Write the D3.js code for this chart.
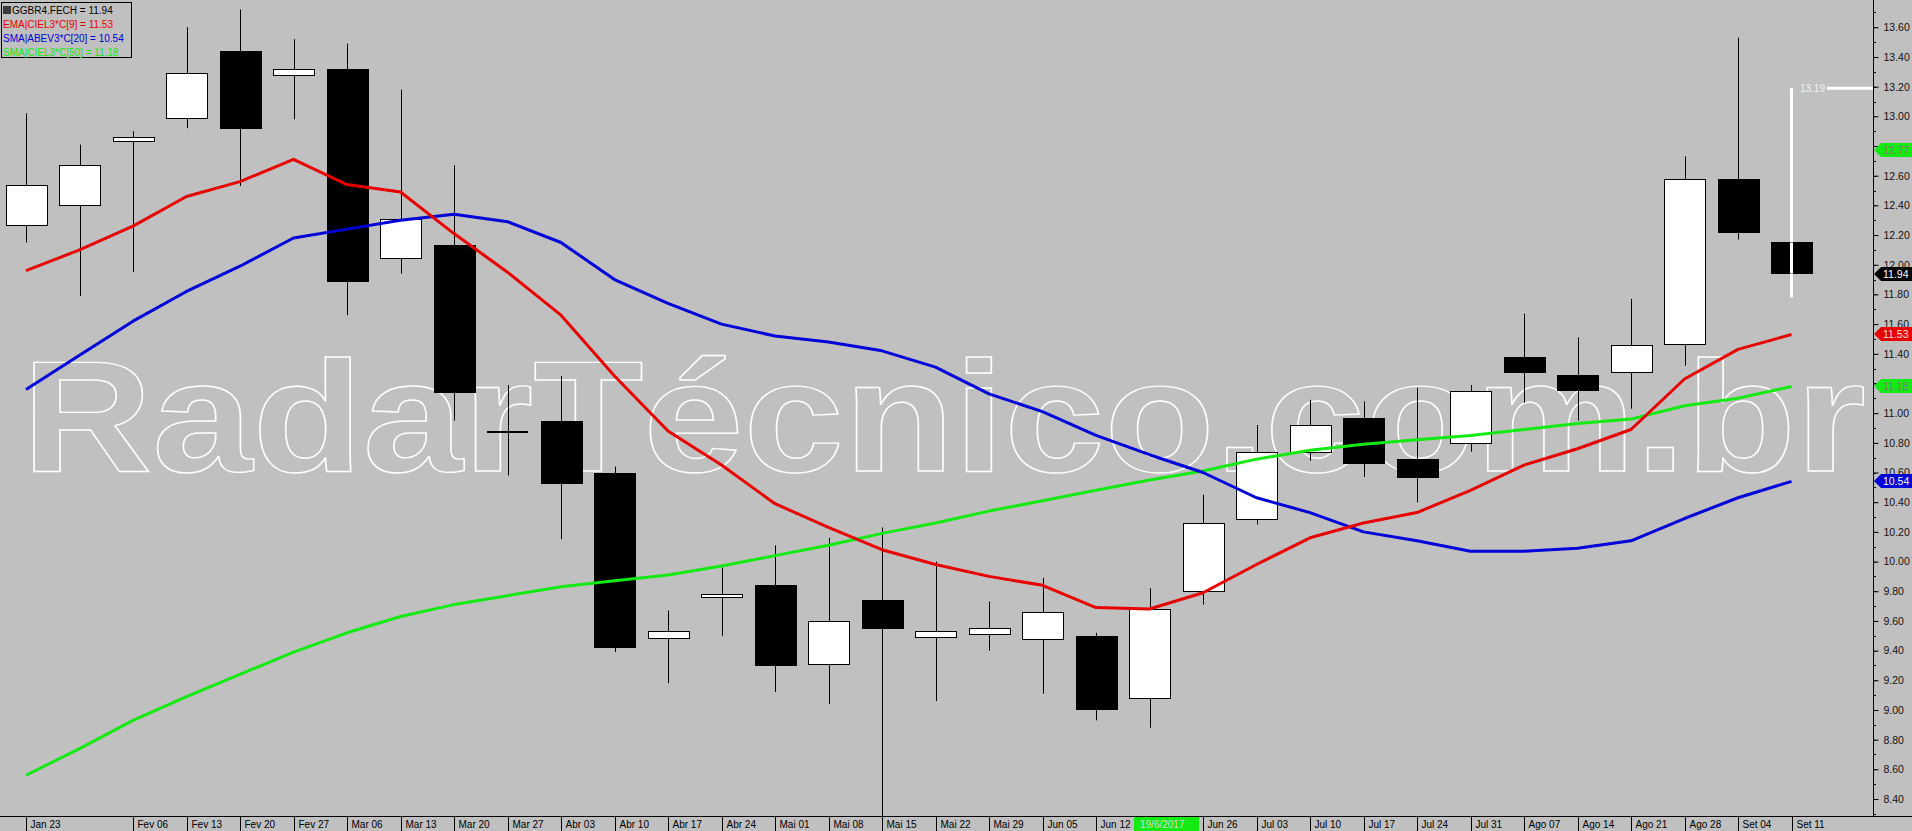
<!DOCTYPE html>
<html><head><meta charset="utf-8">
<script src="https://cdn.jsdelivr.net/npm/d3@7"></script>
<style>
html,body{margin:0;padding:0;background:#c0c0c0;overflow:hidden}
svg{display:block}
text{font-family:"Liberation Sans",Arial,sans-serif}
</style></head><body>
<svg id="chart" width="1912" height="831"></svg>
<script>
// ---------- data ----------
const dates = ["Jan 23","Jan 30","Fev 06","Fev 13","Fev 20","Fev 27","Mar 06","Mar 13","Mar 20","Mar 27",
  "Abr 03","Abr 10","Abr 17","Abr 24","Mai 01","Mai 08","Mai 15","Mai 22","Mai 29","Jun 05",
  "Jun 12","Jun 19","Jun 26","Jul 03","Jul 10","Jul 17","Jul 24","Jul 31","Ago 07","Ago 14",
  "Ago 21","Ago 28","Set 04","Set 11"];
const tickLabels = ["Jan 23","","Fev 06","Fev 13","Fev 20","Fev 27","Mar 06","Mar 13","Mar 20","Mar 27",
  "Abr 03","Abr 10","Abr 17","Abr 24","Mai 01","Mai 08","Mai 15","Mai 22","Mai 29","Jun 05",
  "Jun 12","19/6/2017","Jun 26","Jul 03","Jul 10","Jul 17","Jul 24","Jul 31","Ago 07","Ago 14",
  "Ago 21","Ago 28","Set 04","Set 11"];
const highlightedLabel = "19/6/2017";
const open  = [12.27,12.40,12.83,12.99,13.44,13.28,13.32,12.05,12.13,10.87,10.95,10.60,9.48,9.76,9.84,9.31,9.74,9.49,9.51,9.48,9.50,9.08,9.80,10.29,10.74,10.97,10.69,10.80,11.38,11.26,11.28,11.47,12.58,12.15];
const high  = [13.02,12.81,12.90,13.60,13.72,13.52,13.49,13.18,12.67,11.19,11.25,10.64,9.67,9.96,10.11,10.16,10.23,10.00,9.73,9.89,9.52,9.82,10.45,10.92,11.09,11.08,11.17,11.19,11.67,11.51,11.77,12.73,13.53,13.19];
const low   = [12.15,11.79,11.95,12.92,12.53,12.98,11.66,11.94,10.95,10.58,10.15,9.39,9.18,9.50,9.12,9.04,8.20,9.06,9.40,9.11,8.93,8.88,9.71,10.25,10.68,10.57,10.40,10.74,11.07,10.95,11.03,11.32,12.17,11.78];
const close = [12.54,12.67,12.86,13.29,12.92,13.32,11.89,12.31,11.14,10.87,10.53,9.43,9.53,9.78,9.30,9.60,9.55,9.53,9.55,9.66,9.01,9.68,10.26,10.74,10.92,10.67,10.57,11.15,11.28,11.16,11.46,12.58,12.22,11.94];
const ema9  = [11.96,12.10,12.26,12.46,12.56,12.71,12.54,12.49,12.21,11.95,11.66,11.25,10.88,10.65,10.39,10.23,10.08,9.98,9.90,9.84,9.69,9.68,9.79,9.98,10.16,10.26,10.33,10.48,10.65,10.76,10.89,11.23,11.43,11.53];
const sma20 = [11.16,11.39,11.62,11.82,11.99,12.18,12.24,12.30,12.34,12.29,12.15,11.90,11.74,11.60,11.52,11.48,11.42,11.31,11.13,11.01,10.85,10.72,10.60,10.43,10.33,10.20,10.14,10.07,10.07,10.09,10.14,10.29,10.43,10.54];
const sma50 = [8.56,8.74,8.93,9.09,9.24,9.39,9.52,9.63,9.71,9.77,9.83,9.87,9.91,9.97,10.04,10.11,10.19,10.26,10.34,10.41,10.48,10.55,10.61,10.69,10.75,10.79,10.82,10.85,10.89,10.93,10.96,11.05,11.10,11.18];
const legendLabels = ["GGBR4.FECH = 11.94","EMA|CIEL3*C[9] = 11.53","SMA|ABEV3*C[20] = 10.54","SMA|CIEL3*C[50] = 11.18"];
const badgeValues = [12.77, 11.94, 11.53, 11.18, 10.54];
const lastHigh = 13.19;
const yTickValues = d3.range(0, 27).map(i => +(8.4 + i*0.2).toFixed(2));
const yMinorValues = d3.range(0, 56).map(i => +(8.3 + i*0.1).toFixed(2));
const watermark = "RadarTécnico.com.br";

// ---------- styles ----------
const C = {bg:"#c0c0c0", red:"#e80000", blue:"#0000d8", green:"#12ea12"};
const legendColors = ["#000", C.red, C.blue, C.green];
const badgeStyles = [
  {fill:C.green, text:"#7a7a7a"},
  {fill:"#000", text:"#fff"},
  {fill:C.red, text:"#ffe0e0"},
  {fill:C.green, text:"#7a7a7a"},
  {fill:C.blue, text:"#fff"}
];

// ---------- layout ----------
const W = 1912, H = 831;
const axisX = 1873, axisY = 816;
const svg = d3.select("#chart");
svg.append("rect").attr("width",W).attr("height",H).attr("fill",C.bg);

const x = d3.scalePoint().domain(dates).range([26, 1791.5]);
const y = d3.scaleLinear().domain([8.4, 13.6]).range([799, 27.3]);
const bodyW = 41;

const plot = svg.append("g");
svg.append("clipPath").attr("id","pc").append("rect")
  .attr("x",0).attr("y",0).attr("width",axisX).attr("height",axisY);
plot.attr("clip-path","url(#pc)");

// watermark
plot.append("text")
  .attr("x", 22).attr("y", 471)
  .attr("font-size", 158).attr("font-weight","bold")
  .attr("textLength", 1844).attr("lengthAdjust","spacingAndGlyphs")
  .attr("fill","none").attr("stroke","#fff").attr("stroke-width",1.4)
  .text(watermark);

// candles
const idx = d3.range(dates.length);
const last = dates.length - 1;
plot.append("g").selectAll("line").data(idx.filter(i => i !== last)).join("line")
  .attr("x1", i => Math.round(x(dates[i])) + 0.5).attr("x2", i => Math.round(x(dates[i])) + 0.5)
  .attr("y1", i => y(high[i])).attr("y2", i => y(low[i]))
  .attr("stroke","#000").attr("stroke-width",1);

plot.append("line")
  .attr("x1", x(dates[last])).attr("x2", x(dates[last]))
  .attr("y1", y(lastHigh)).attr("y2", y(low[last]))
  .attr("stroke","#fff").attr("stroke-width",3);

plot.append("g").selectAll("rect").data(idx.filter(i => open[i] !== close[i])).join("rect")
  .attr("x", i => Math.round(x(dates[i]) - bodyW/2) + 0.5)
  .attr("y", i => Math.round(y(Math.max(open[i], close[i]))) + 0.5)
  .attr("width", bodyW)
  .attr("height", i => Math.max(2, Math.round(Math.abs(y(open[i]) - y(close[i])))))
  .attr("fill", i => close[i] > open[i] ? "#fff" : "#000")
  .attr("stroke","#000").attr("stroke-width",1);

plot.append("g").selectAll("line").data(idx.filter(i => open[i] === close[i])).join("line")
  .attr("x1", i => x(dates[i]) - bodyW/2).attr("x2", i => x(dates[i]) + bodyW/2)
  .attr("y1", i => Math.round(y(open[i]))).attr("y2", i => Math.round(y(open[i])))
  .attr("stroke","#000").attr("stroke-width",2);

plot.append("line")
  .attr("x1", x(dates[last])).attr("x2", x(dates[last]))
  .attr("y1", y(Math.max(open[last],close[last]))).attr("y2", y(Math.min(open[last],close[last])))
  .attr("stroke","#fff").attr("stroke-width",3);

// indicator lines
const lineGen = d3.line().x((d,i) => x(dates[i])).y(d => y(d));
[[sma50, C.green],[sma20, C.blue],[ema9, C.red]].forEach(([arr,col]) => {
  plot.append("path").datum(arr).attr("d", lineGen)
    .attr("fill","none").attr("stroke",col).attr("stroke-width",3)
    .attr("stroke-linejoin","round");
});

// 13.19 marker
svg.append("line").attr("x1",1827).attr("x2",axisX).attr("y1",y(lastHigh)).attr("y2",y(lastHigh))
  .attr("stroke","#fff").attr("stroke-width",3);
svg.append("text").attr("x",1825).attr("y",y(lastHigh)+3.5).attr("text-anchor","end")
  .attr("font-size",10).attr("fill","#f2f2f2").text(lastHigh.toFixed(2));

// right axis (labels hidden behind a badge are not drawn)
const hidden = v => badgeValues.some(b => Math.abs(y(b) - y(v)) < 6);
const yAxis = d3.axisRight(y).tickValues(yTickValues).tickSize(5).tickPadding(5)
  .tickFormat(v => hidden(v) ? "" : d3.format(".2f")(v));
const ga = svg.append("g").attr("transform",`translate(${axisX + 0.5},0)`).call(yAxis);
ga.select(".domain").remove();
ga.selectAll("text").attr("font-size",10.5).attr("fill","#111")
  .attr("font-family",'"Liberation Sans",Arial,sans-serif');
ga.selectAll("line").attr("stroke","#000");
svg.append("g").selectAll("line").data(yMinorValues.filter(v => y(v) > 0 && y(v) < axisY)).join("line")
  .attr("x1", axisX).attr("x2", axisX + 3)
  .attr("y1", v => Math.round(y(v)) + 0.5).attr("y2", v => Math.round(y(v)) + 0.5)
  .attr("stroke","#000");
svg.append("line").attr("x1",axisX+0.5).attr("x2",axisX+0.5).attr("y1",0).attr("y2",axisY)
  .attr("stroke","#000");

// badges
const bg = svg.append("g").selectAll("g").data(badgeValues).join("g")
  .attr("transform", d => `translate(0,${Math.round(y(d))})`);
bg.append("path")
  .attr("d", `M${axisX+1},0 L${axisX+8},-7 L${W},-7 L${W},7 L${axisX+8},7 Z`)
  .attr("fill", (d,i) => badgeStyles[i].fill);
bg.append("text").attr("x", axisX + 10).attr("y", 4)
  .attr("font-size",10.5).attr("fill",(d,i) => badgeStyles[i].text)
  .text(d => d.toFixed(2));

// bottom axis
svg.append("line").attr("x1",0).attr("x2",W).attr("y1",axisY+0.5).attr("y2",axisY+0.5).attr("stroke","#000");
const hi = tickLabels.indexOf(highlightedLabel);
const labIdx = idx.filter(i => tickLabels[i] !== "" && i !== hi);
const bl = svg.append("g").selectAll("g").data(labIdx).join("g")
  .attr("transform", i => `translate(${Math.round(x(dates[i])) + 0.5},${axisY})`);
bl.append("line").attr("y1",0).attr("y2",H-axisY).attr("stroke","#000");
bl.append("text").attr("x",4).attr("y",12).attr("font-size",10).attr("fill","#000")
  .text(i => tickLabels[i]);
// highlighted date box
const hx = Math.round(x(dates[hi])) - 16;
svg.append("rect").attr("x", hx).attr("y", axisY + 1)
  .attr("width", Math.round(x(dates[hi+1])) - hx - 4).attr("height", H - axisY - 1)
  .attr("fill", C.green);
svg.append("text").attr("x", hx + 6).attr("y", axisY + 12).attr("font-size",10)
  .attr("fill","#d8d8d8").text(highlightedLabel);

// legend
const lg = svg.append("g");
lg.append("rect").attr("x",1.5).attr("y",2.5).attr("width",130).attr("height",55)
  .attr("fill","none").attr("stroke","#000");
lg.append("rect").attr("x",3).attr("y",6).attr("width",8).attr("height",8).attr("fill","#3a3a3a");
lg.selectAll("text.l").data(legendLabels).join("text").attr("class","l")
  .attr("x",(d,i) => i === 0 ? 12 : 3).attr("y",(d,i) => 14 + i*14)
  .attr("font-size",10).attr("fill",(d,i) => legendColors[i]).text(d => d);
</script>
</body></html>
